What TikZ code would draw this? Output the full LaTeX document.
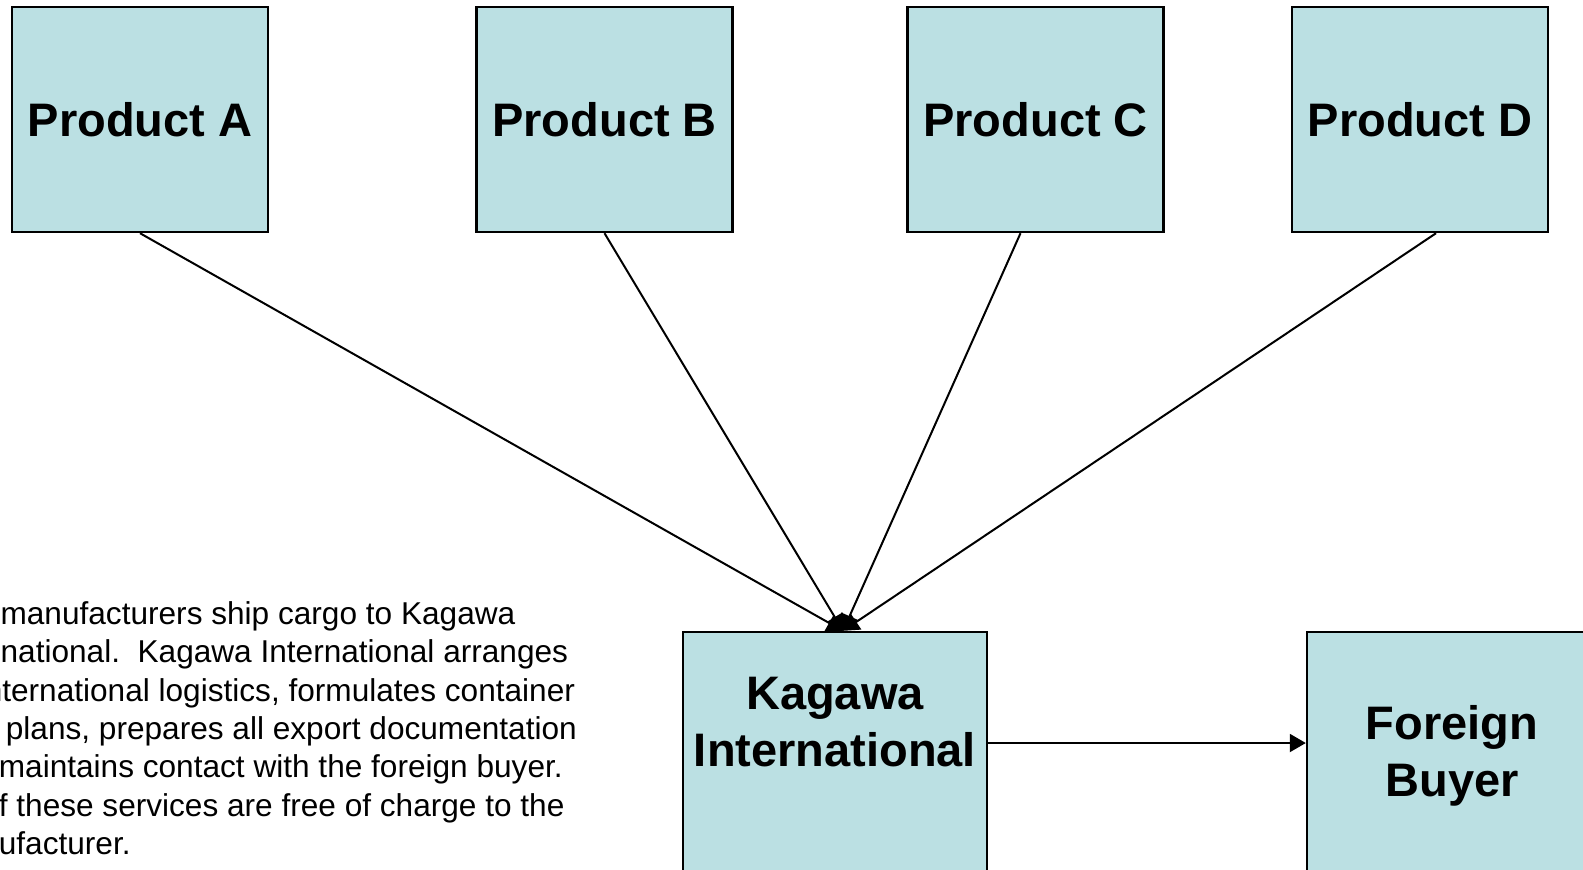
\documentclass[tikz,border=0pt]{standalone}
\usepackage{fontspec}
\setmainfont{Liberation Sans}
\usetikzlibrary{arrows.meta,positioning}
\definecolor{boxfill}{HTML}{BBE0E3}
\tikzset{
  prodbox/.style={draw,line width=1.2pt,fill=boxfill,inner sep=0pt,
    minimum width=128pt,minimum height=112.5pt,
    font=\fontsize{23.5}{28.5}\selectfont\bfseries},
  bigbox/.style={draw,line width=1.2pt,fill=boxfill,inner sep=0pt,minimum height=150pt},
  boxtitle/.style={inner sep=0pt,align=center,font=\fontsize{23.5}{28.5}\selectfont\bfseries},
  flow/.style={line width=1pt,-{Triangle[length=8pt,width=9pt]}}
}
\begin{document}
\begin{tikzpicture}[x=0.5pt,y=-0.5pt]
        \useasboundingbox (0,0) rectangle (1583,869);
        \clip (0,0) rectangle (1583,869);
        %% products
        \node[prodbox] (A) at (140,119.5)  {Product A};
        \node[prodbox] (B) at (604.5,119.5) {Product B};
        \node[prodbox] (C) at (1035.5,119.5) {Product C};
        \node[prodbox] (D) at (1420,119.5) {Product D};
        %% kagawa and buyer
        \node[bigbox,minimum width=152pt] (K) at (835,782) {};
        \node[boxtitle,below=23pt of K.north] (Ktext) {Kagawa\\International};
        \node[bigbox,minimum width=145pt] (F) at (1452,782) {};
        \node[boxtitle,below=37pt of F.north] (Ftext) {Foreign\\Buyer};
        %% shipments
        \coordinate (hub) at ([xshift=4pt]K.north);
        \draw[flow] (A.south) -- (hub);
        \draw[flow] (B.south) -- (hub);
        \draw[flow] ([xshift=-7.5pt]C.south) -- (hub);
        \draw[flow] ([xshift=8pt]D.south) -- (hub);
        \draw[flow] ([yshift=19.5pt]K.east) -- ([yshift=19.5pt]F.west);
        %% note
        \node[anchor=north west,inner sep=0pt,align=left,
              font=\fontsize{15.8}{19.2}\selectfont] (note) at (-63,601)
              {The manufacturers ship cargo to Kagawa\\
               International.\ \ Kagawa International arranges\\
               all international logistics, formulates container\\
               load plans, prepares all export documentation\\
               and maintains contact with the foreign buyer.\\
               All of these services are free of charge to the\\
               manufacturer.};
    \end{tikzpicture}
\end{document}
